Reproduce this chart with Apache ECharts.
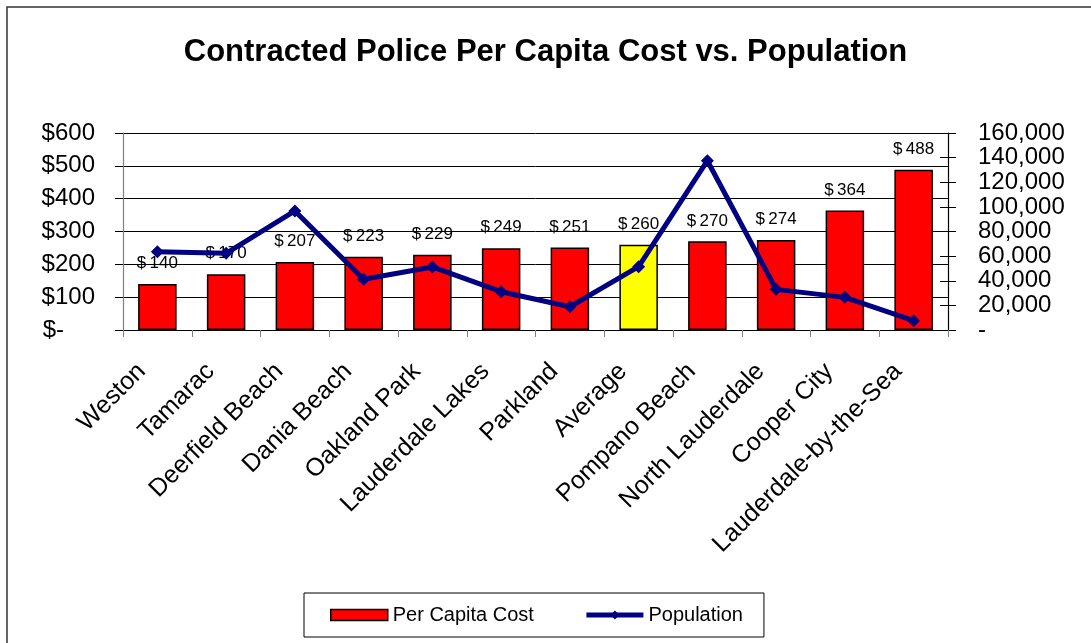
<!DOCTYPE html>
<html>
<head>
<meta charset="utf-8">
<script src="https://cdn.jsdelivr.net/npm/echarts@6/dist/echarts.min.js"></script>
<style>html,body{margin:0;padding:0;background:#fff}#c{width:1091px;height:643px}</style>
</head>
<body>
<div id="c"></div>
<script>
const categories = ['Weston','Tamarac','Deerfield Beach','Dania Beach','Oakland Park','Lauderdale Lakes','Parkland','Average','Pompano Beach','North Lauderdale','Cooper City','Lauderdale-by-the-Sea'];
const perCapitaCost = [140,170,207,223,229,249,251,260,270,274,364,488];
const population = [63600,62300,96700,41200,51200,31100,18900,51400,137500,33000,26500,7600];
const leftTicks = [0,100,200,300,400,500,600];
const rightTicks = [0,20000,40000,60000,80000,100000,120000,140000,160000];
const highlightCategory = 'Average';

const FONT = '"Liberation Sans", Arial, sans-serif';
const chart = echarts.init(document.getElementById('c'), null, {renderer:'canvas'});

const barData = perCapitaCost.map((v,i)=>({
  value: v,
  itemStyle: { color: categories[i]===highlightCategory ? '#FFFF00' : '#FF0000' }
}));

chart.setOption({
  backgroundColor:'#fff',
  animation:false,
  graphic:[{type:'rect', shape:{x:7,y:7,width:1200,height:800}, style:{fill:'none', stroke:'#333', lineWidth:1.5}, silent:true}],
  title:{ text:'Contracted Police Per Capita Cost vs. Population', left:'center', top:32,
    textStyle:{ fontFamily:FONT, fontSize:31, fontWeight:'bold', color:'#000'} },
  legend:{ bottom:6, left:304, itemGap:50, padding:[12,21,12,26],
    borderColor:'#000', borderWidth:1, itemWidth:57, itemHeight:11,
    textStyle:{fontFamily:FONT, fontSize:20, color:'#000'},
    data:[{name:'Per Capita Cost', icon:'rect', itemStyle:{color:'#FF0000', borderColor:'#000', borderWidth:1.5}},
          {name:'Population', lineStyle:{width:5, color:'#000080'}, itemStyle:{color:'#000080'}}] },
  grid:{ left:123, right:143, top:133, bottom:313, containLabel:false },
  xAxis:{ type:'category', data:categories,
    axisLine:{lineStyle:{color:'#000', width:1.2}},
    axisTick:{show:true, length:7, lineStyle:{color:'#808080'}},
    axisLabel:{rotate:45, fontFamily:FONT, fontSize:25, color:'#000', margin:22, interval:0,
      formatter: v => '{t|' + v + '}',
      rich:{t:{fontFamily:FONT, fontSize:25, color:'#000', padding:[0,22,0,0]}} } },
  yAxis:[
    { type:'value', min:leftTicks[0], max:leftTicks[leftTicks.length-1], interval:100, position:'left',
      axisLine:{show:true, lineStyle:{color:'#808080', width:1.2}},
      axisTick:{show:true, length:8, lineStyle:{color:'#000'}},
      splitLine:{show:true, lineStyle:{color:'#000', width:1}},
      axisLabel:{fontFamily:FONT, fontSize:24, color:'#000', margin:28,
        formatter: v => v===0 ? '{z|$-}' : '$'+v,
        rich:{z:{fontFamily:FONT, fontSize:24, color:'#000', padding:[0,31,0,0]}} } },
    { type:'value', min:rightTicks[0], max:rightTicks[rightTicks.length-1], interval:20000, position:'right',
      axisLine:{show:true, lineStyle:{color:'#000', width:1.2}},
      axisTick:{show:true, length:8, lineStyle:{color:'#000'}},
      splitLine:{show:false},
      axisLabel:{fontFamily:FONT, fontSize:24, color:'#000', margin:30,
        formatter: v => v===0 ? '-' : v.toLocaleString('en-US')} },
    { type:'value', min:rightTicks[0], max:rightTicks[rightTicks.length-1], interval:20000, position:'right',
      axisLine:{show:false}, axisLabel:{show:false}, splitLine:{show:false},
      axisTick:{show:true, inside:true, length:8, lineStyle:{color:'#000'}} }
  ],
  series:[
    { name:'Per Capita Cost', type:'bar', yAxisIndex:0, data:barData, barCategoryGap:'44%',
      itemStyle:{ color:'#FF0000', borderColor:'#000', borderWidth:1.5 },
      label:{ show:true, position:'top', distance:12, fontFamily:FONT, fontSize:17, color:'#000',
        formatter: p => '$\u2009' + p.value } },
    { name:'Population', type:'line', yAxisIndex:1, data:population,
      symbol:'diamond', symbolSize:13, z:5,
      lineStyle:{color:'#000080', width:5}, itemStyle:{color:'#000080'} }
  ]
});
</script>
</body>
</html>
